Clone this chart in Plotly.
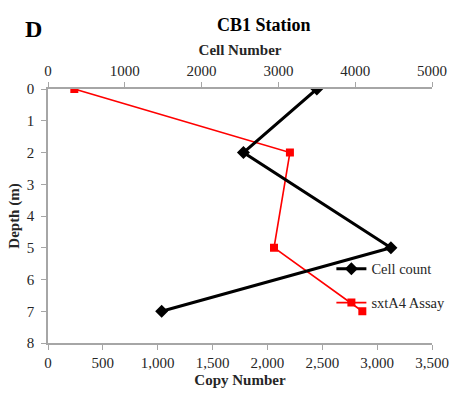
import plotly.graph_objects as go

# Depth profile at CB1 station
depth = [0, 2, 5, 7]
cell_count = [3500, 2545, 4465, 1480]      # cells, top axis
sxta4_copies = [240, 2205, 2060, 2865]     # copy number, bottom axis

serif = "Liberation Serif, Times New Roman, serif"
axis_col = "#a6a6a6"
text_col = "#262626"

fig = go.Figure()

fig.add_trace(go.Scatter(
    x=cell_count, y=depth, name="Cell count", xaxis="x2", yaxis="y",
    mode="lines+markers",
    line=dict(color="black", width=3),
    marker=dict(symbol="diamond", size=10, color="black"),
    legendgroup="a",
))
fig.add_trace(go.Scatter(
    x=sxta4_copies, y=depth, name="sxtA4 Assay", xaxis="x", yaxis="y",
    mode="lines+markers",
    line=dict(color="#ff0000", width=1.6),
    marker=dict(symbol="square", size=8, color="#ff0000"),
    legendgroup="b",
))

fig.update_layout(
    width=462, height=405,
    margin=dict(l=46, r=28, t=89, b=62),
    paper_bgcolor="white", plot_bgcolor="white",
    font=dict(family=serif, size=15, color=text_col),
    showlegend=True,
    legend=dict(
        x=0.738, y=0.355, xanchor="left", yanchor="top",
        bgcolor="rgba(0,0,0,0)", font=dict(size=14.5, color=text_col),
        tracegroupgap=12, traceorder="grouped",
    ),
    xaxis=dict(
        range=[0, 3500], dtick=500, tickformat=",", side="bottom",
        showline=True, linecolor=axis_col, linewidth=1.5,
        ticks="outside", tickcolor=axis_col, ticklen=5,
        showgrid=False, zeroline=False,
        title=dict(text="<b>Copy Number</b>", standoff=5,
                   font=dict(size=15, color=text_col)),
    ),
    xaxis2=dict(
        range=[0, 5000], dtick=1000, tickformat="d",
        overlaying="x", side="top", anchor="y",
        showline=True, linecolor=axis_col, linewidth=1.5,
        ticks="outside", tickcolor=axis_col, ticklen=5,
        showgrid=False, zeroline=False,
        title=dict(text="<b>Cell Number</b>", standoff=4,
                   font=dict(size=15, color=text_col)),
    ),
    yaxis=dict(
        range=[8, 0], dtick=1,
        showline=True, linecolor=axis_col, linewidth=1.5,
        ticks="outside", tickcolor=axis_col, ticklen=5,
        ticklabelstandoff=4,
        showgrid=False, zeroline=False,
        title=dict(text="<b>Depth (m)</b>", standoff=4,
                   font=dict(size=15, color=text_col)),
    ),
    annotations=[
        dict(text="<b>CB1 Station</b>", xref="paper", yref="paper",
             x=0.562, y=1, yanchor="middle", yshift=64, showarrow=False,
             font=dict(size=18, color="black")),
        dict(text="<b>D</b>", xref="paper", yref="paper",
             x=-0.065, y=1, yanchor="middle", yshift=60, showarrow=False,
             font=dict(size=24, color="black")),
    ],
)

fig.write_html("out.html")
